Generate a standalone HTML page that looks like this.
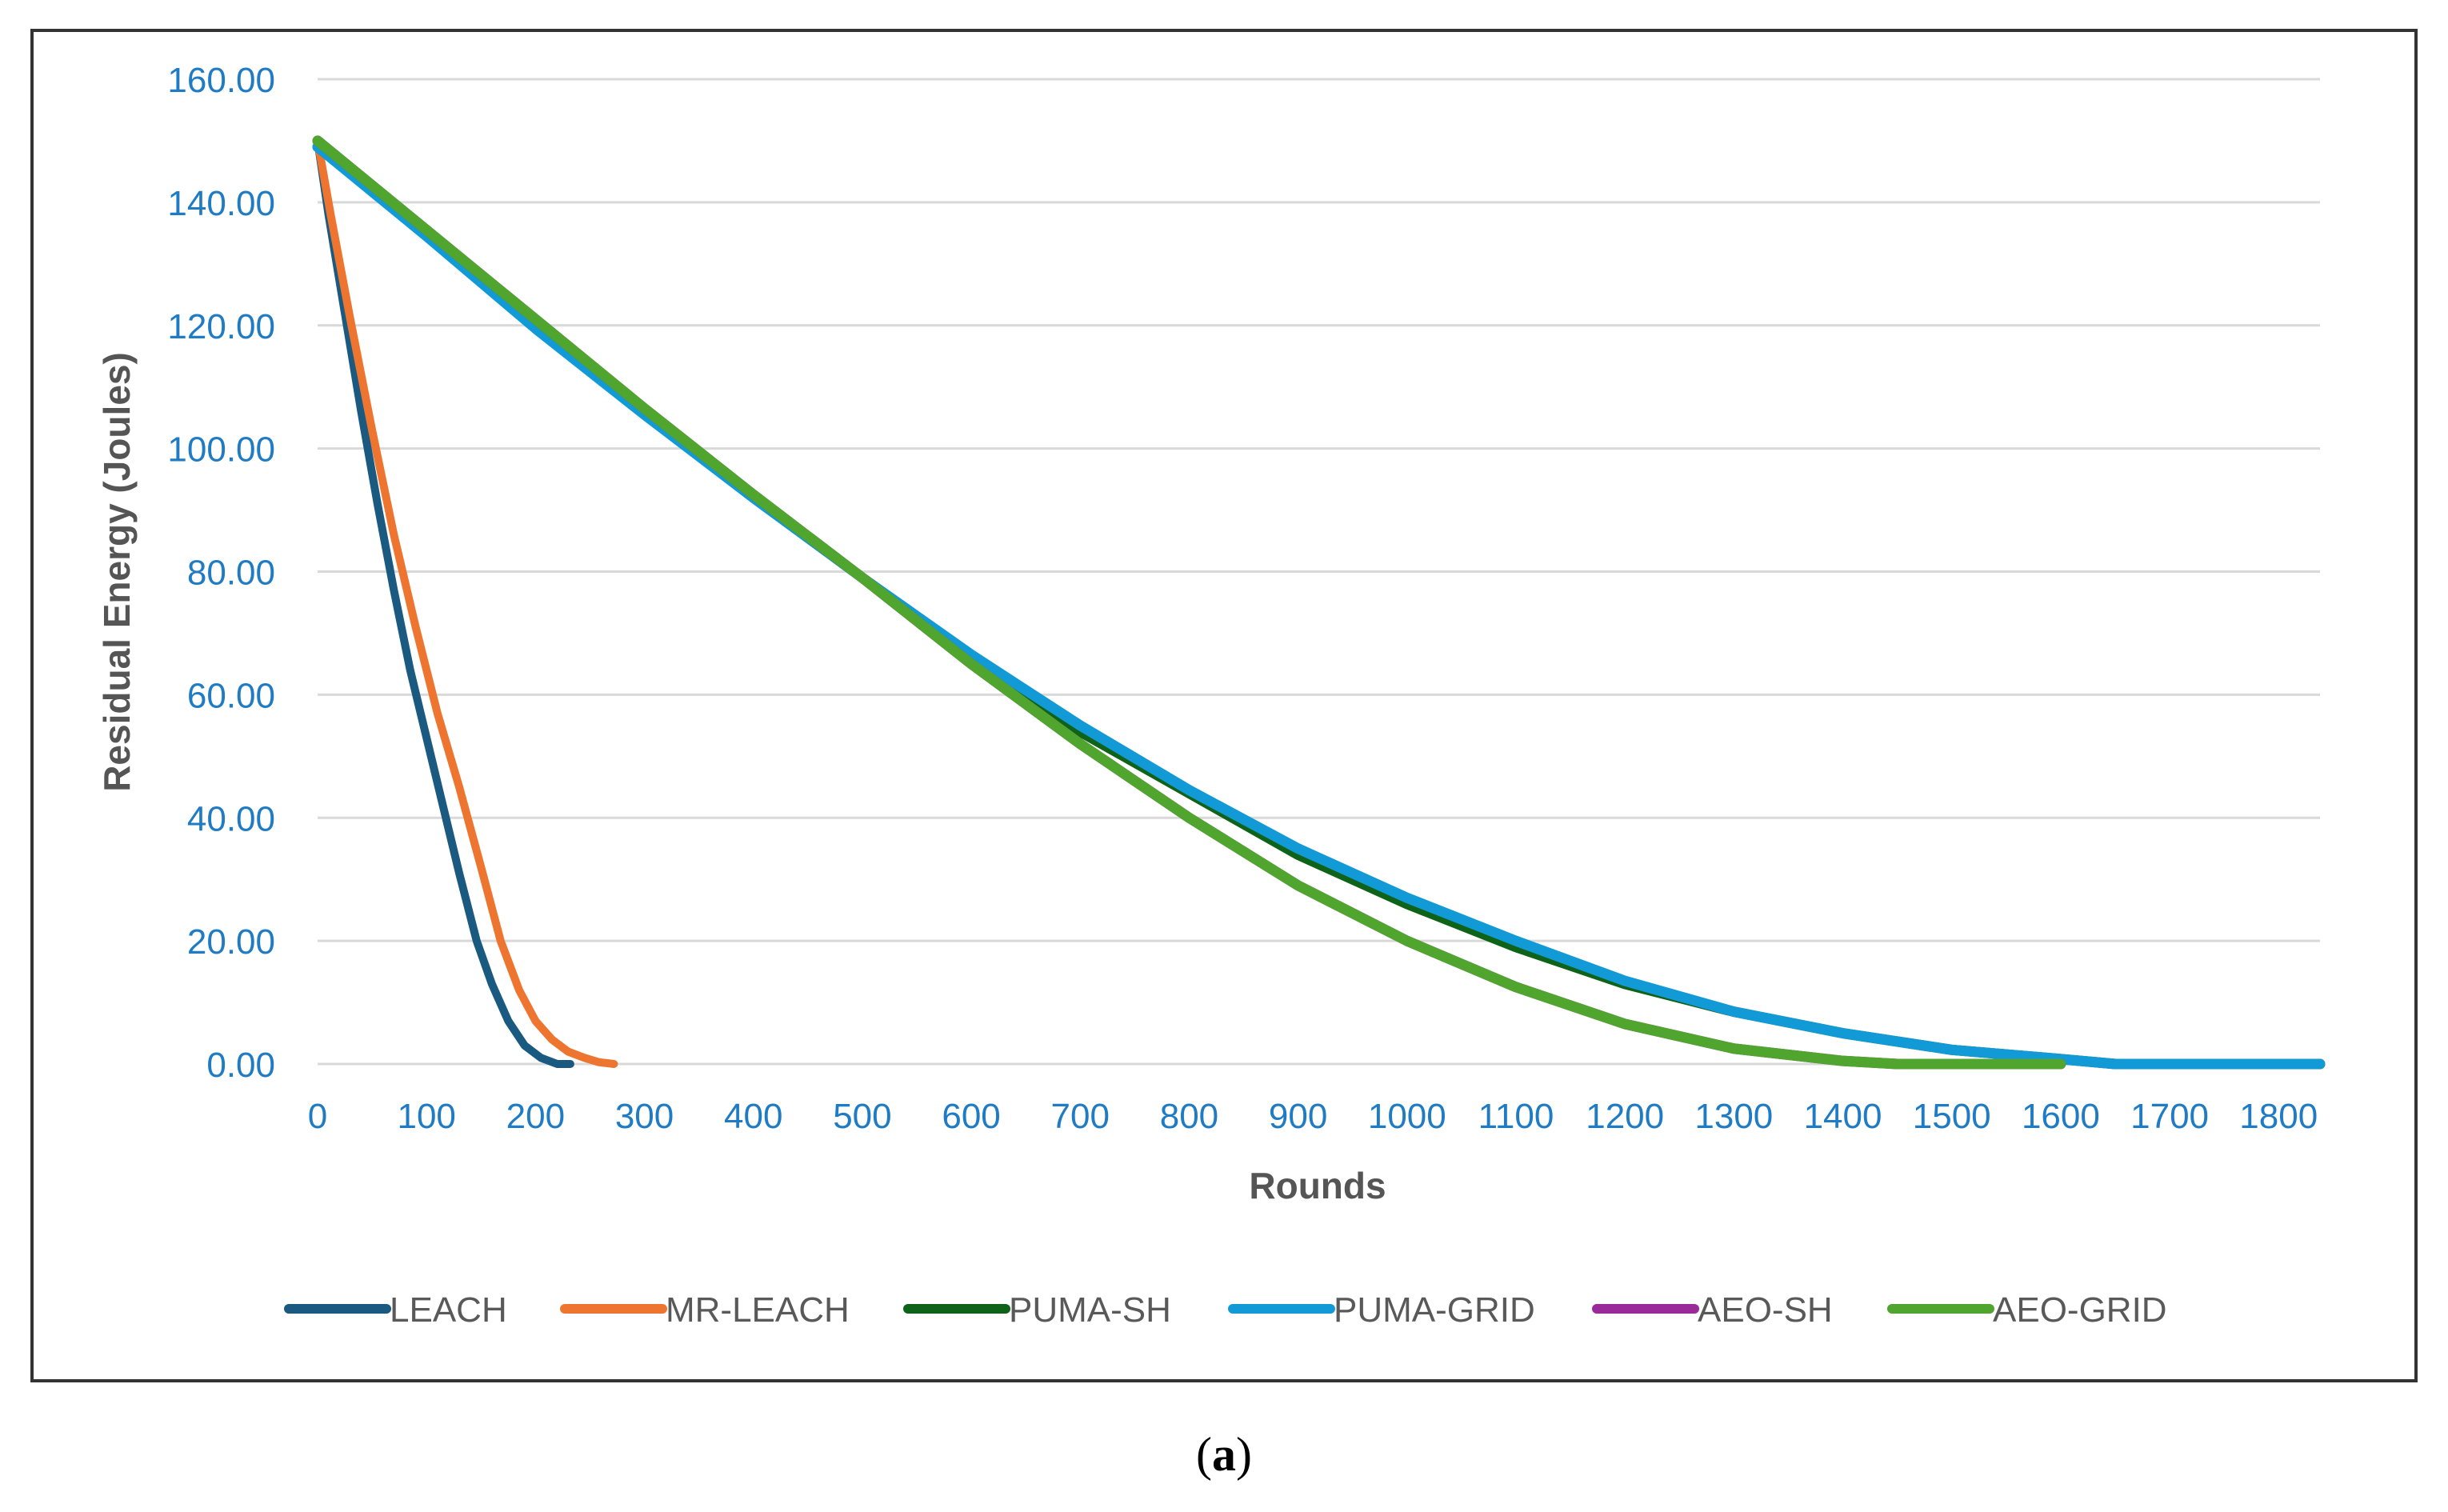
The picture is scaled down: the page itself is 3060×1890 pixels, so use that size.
<!DOCTYPE html>
<html><head><meta charset="utf-8"><style>
html,body{margin:0;padding:0;background:#fff;}
svg{display:block;font-family:"Liberation Sans",sans-serif;}
</style></head><body>
<svg id="chart" width="3060" height="1890" viewBox="0 0 3060 1890">
<rect x="40" y="38" width="2980" height="1688" fill="#fff" stroke="#333" stroke-width="4"/>
<g id="grid"></g>
<g id="series"></g>
<g id="ticks"></g>
<text transform="translate(162,715) rotate(-90)" text-anchor="middle" font-size="46" font-weight="bold" fill="#555">Residual Energy (Joules)</text>
<text x="1647" y="1498" text-anchor="middle" font-size="46" font-weight="bold" fill="#555">Rounds</text>
<g id="legend"></g>
<text x="1530" y="1838" text-anchor="middle" font-size="60" font-family="Liberation Serif, serif" fill="#000">(<tspan font-weight="bold">a</tspan>)</text>
</svg>
<script>
const yTicks=[0,20,40,60,80,100,120,140,160];
const xTicks=[0,100,200,300,400,500,600,700,800,900,1000,1100,1200,1300,1400,1500,1600,1700,1800];
const seriesNames=["LEACH","MR-LEACH","PUMA-SH","PUMA-GRID","AEO-SH","AEO-GRID"];
const seriesColors=["#1a5a80","#ee7530","#0f6318","#129ad6","#9a2a9a","#4fa52e"];
const leachX=[0,10,25,40,55,70,85,100,115,130,146,160,175,190,205,220,232];
const leachY=[150,138,122,106,91,77,64,53,42,31,20,13,7,3,1,0,0];
const mrleachX=[0,12,30,50,70,90,110,130,150,168,185,200,215,230,245,258,272];
const mrleachY=[150,138,121,103,86,71,57,45,32,20,12,7,4,2,1,0.3,0];
const pumashX=[0,100,200,300,400,500,600,700,800,900,1000,1100,1200,1300,1400,1500,1600,1650,1838];
const pumashY=[149,135,120,106,92,79,66,54,44,34,26,19,13,8.5,5,2.3,0.8,0,0];
const pumagridX=[0,100,200,300,400,500,600,700,800,900,1000,1100,1200,1300,1400,1500,1600,1650,1838];
const pumagridY=[149,134.5,119.5,105.5,92,79,66.5,55,44.5,35,27,20,13.5,8.5,5,2.3,0.8,0,0];
const aeoshX=[0,100,200,300,400,500,600,700,800,900,1000,1100,1200,1300,1400,1450,1600];
const aeoshY=[150,135.5,121,106.5,92.5,79,65,52,40,29,20,12.5,6.5,2.5,0.5,0,0];
const aeogridX=[0,100,200,300,400,500,600,700,800,900,1000,1100,1200,1300,1400,1450,1600];
const aeogridY=[150,135.5,121,106.5,92.5,79,65,52,40,29,20,12.5,6.5,2.5,0.5,0,0];
const allX=[leachX,mrleachX,pumashX,pumagridX,aeoshX,aeogridX];
const allY=[leachY,mrleachY,pumashY,pumagridY,aeoshY,aeogridY];
const widths=[10,10,13,13,13,13];

const X0=397,X1=2900,XMAX=1838,Y0=1330,Y1=99,YMAX=160;
function sx(v){return X0+(X1-X0)*v/XMAX;}
function sy(v){return Y0-(Y0-Y1)*v/YMAX;}
const NS="http://www.w3.org/2000/svg";
function mk(tag,attrs,parent){const e=document.createElementNS(NS,tag);for(const k in attrs)e.setAttribute(k,attrs[k]);parent.appendChild(e);return e;}
const grid=document.getElementById('grid'),ticks=document.getElementById('ticks'),ser=document.getElementById('series'),leg=document.getElementById('legend');
yTicks.forEach(t=>{
  const l=mk('line',{x1:X0,x2:X1,y1:sy(t),y2:sy(t),stroke:'#d9d9d9','stroke-width':3},grid);
  
  
  const tx=mk('text',{x:344,y:sy(t)+16,'text-anchor':'end','font-size':44,fill:'#1f7bc4'},ticks);
  tx.textContent=t.toFixed(2);
  
  
});
xTicks.forEach(t=>{
  const tx=mk('text',{x:sx(t),y:1410,'text-anchor':'middle','font-size':44,fill:'#1f7bc4'},ticks);
  tx.textContent=t;
  
  
});
allX.forEach((xs,i)=>{
  const pts=xs.map((x,j)=>sx(x)+','+sy(allY[i][j])).join(' ');
  const p=mk('polyline',{points:pts,fill:'none',stroke:seriesColors[i],'stroke-width':widths[i],'stroke-linejoin':'round','stroke-linecap':'round'},ser);
  
  
});
const legX=[361,706,1135,1541,1996,2365];
seriesNames.forEach((n,i)=>{
  const g=mk('g',{},leg);
  
  
  mk('line',{x1:legX[i],x2:legX[i]+122,y1:1636,y2:1636,stroke:seriesColors[i],'stroke-width':12,'stroke-linecap':'round'},g);
  const t=mk('text',{x:legX[i]+126,y:1652,'font-size':44,fill:'#595959'},g);
  t.textContent=n;
});
</script>
</body></html>
